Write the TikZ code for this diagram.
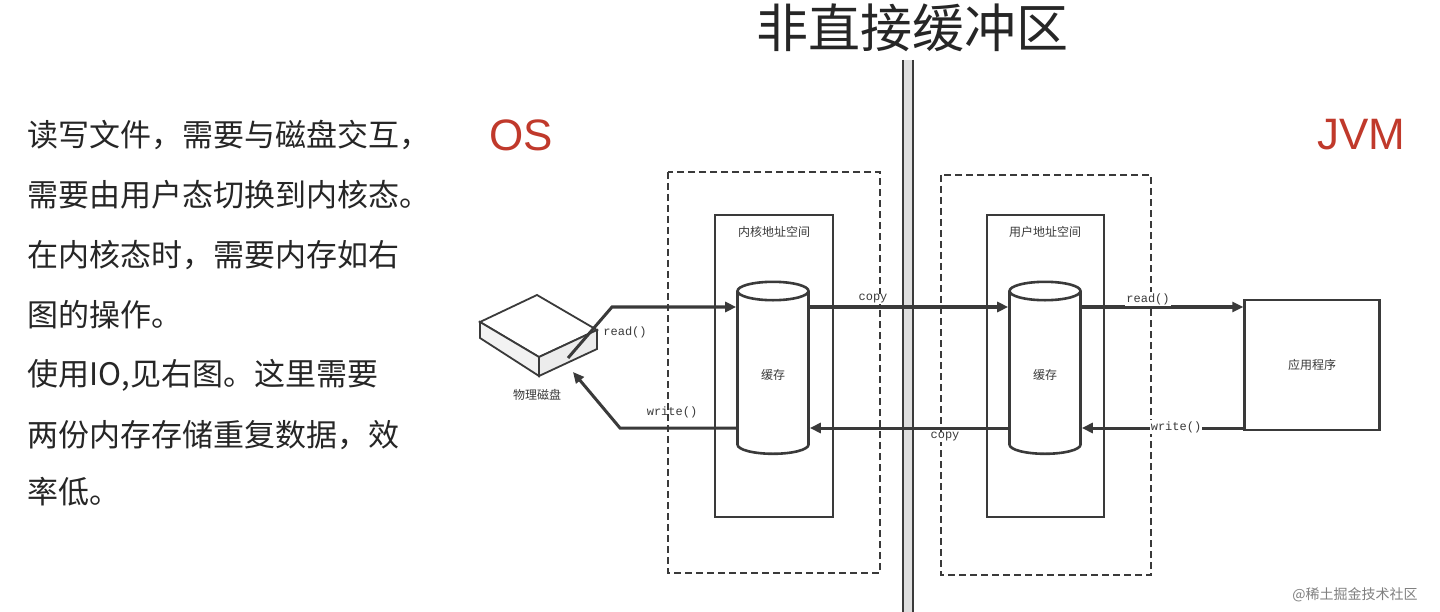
\documentclass[tikz,border=0pt]{standalone}
\usepackage{fontspec}
\setmainfont{Noto Sans CJK SC}
\newfontfamily\cjk{Noto Sans CJK SC}
\newfontfamily\mymono{Liberation Mono}
\usetikzlibrary{shapes.geometric,arrows.meta}
\definecolor{osred}{HTML}{C0392B}
\definecolor{ln}{HTML}{3A3A3A}
\begin{document}
\begin{tikzpicture}[x=1pt,y=-1pt,
  dbox/.style={draw=ln,line width=1.6pt,dash pattern=on 7pt off 4pt},
  sbox/.style={draw=ln,line width=1.3pt},
  cyl/.style={cylinder,shape border rotate=90,draw=ln,line width=2.6pt,minimum width=71pt,minimum height=172pt,aspect=0.6,font=\cjk\fontsize{12}{12}\selectfont,text=ln},
  arr/.style={draw=ln,line width=3pt,-{Triangle[length=11pt,width=10pt]}},
  lbl/.style={font=\mymono\fontsize{12}{12}\selectfont,text=ln,fill=white,inner sep=1pt},
  small/.style={font=\cjk\fontsize{12}{12}\selectfont,text=ln},
  side/.style={font=\cjk\fontsize{31}{31}\selectfont,anchor=west,text=black!85}]
\useasboundingbox (0,0) rectangle (1440,612);
\fill[white] (0,0) rectangle (1440,612);
\node[font=\cjk\fontsize{52}{52}\selectfont,text=black!85] (title) at (912,28) {非直接缓冲区};
\fill[gray!25] (903,60) rectangle (913,612);
\draw[ln,line width=1.2pt] (903,60) -- (903,612) (913,60) -- (913,612);
\node[side] (t1) at (24,135) {读写文件，需要与磁盘交互，};
\node[side] (t2) at (24,195) {需要由用户态切换到内核态。};
\node[side] (t3) at (24,255) {在内核态时，需要内存如右};
\node[side] (t4) at (24,315) {图的操作。};
\node[side] (t5) at (24,375) {使用IO,见右图。这里需要};
\node[side] (t6) at (24,435) {两份内存存储重复数据，效};
\node[side] (t7) at (24,492) {率低。};
\node[font=\fontspec{Liberation Sans}\fontsize{44}{44}\selectfont,text=osred] (os) at (521,135) {OS};
\node[font=\fontspec{Liberation Sans}\fontsize{44}{44}\selectfont,text=osred] (jvm) at (1361,135) {JVM};
\draw[dbox] (668,172) rectangle (880,573);
\draw[dbox] (941,175) rectangle (1151,575);
\draw[sbox] (715,215) rectangle (833,517);
\draw[sbox] (987,215) rectangle (1104,517);
\node[small] (kl) at (774,232) {内核地址空间};
\node[small] (ul) at (1045,232) {用户地址空间};
\node[cyl] (c1) at (773,375) {缓存};
\node[cyl] (c2) at (1045,375) {缓存};
% disk
\draw[ln,line width=1.8pt,fill=white] (480,322) -- (537,295) -- (597,330) -- (539,357) -- cycle;
\draw[ln,line width=1.8pt,fill=gray!10] (480,322) -- (480,338) -- (539,376) -- (539,357) -- cycle;
\draw[ln,line width=1.8pt,fill=gray!15] (539,357) -- (539,376) -- (597,349) -- (597,330) -- cycle;
\node[small] (dl) at (537,395) {物理磁盘};
\node[draw=ln,line width=2.4pt,minimum width=135pt,minimum height=130pt,small] (app) at (1312,365) {应用程序};
\coordinate (r1) at (612,307);
\coordinate (w1) at (620,428);
\draw[arr] (568,358) -- (r1) -- (c1.west |- r1) ;
\node[lbl,fill=none] (rl) at (625,332) {read()};
\draw[arr] (c1.west |- w1) -- (w1) -- (573,372);
\node[lbl,fill=none] (wl) at (672,412) {write()};
\draw[arr] (c1.east |- r1) -- (c2.west |- r1);
\node[lbl] (cp1) at (873,299) {copy};
\draw[arr] (c2.west |- w1) -- (c1.east |- w1);
\node[lbl] (cp2) at (945,437) {copy};
\draw[arr] (c2.east |- r1) -- (app.west |- r1);
\node[lbl] (rl2) at (1148,299) {read()};
\draw[arr] (app.west |- w1) -- (c2.east |- w1);
\node[lbl] (wl2) at (1176,427) {write()};
\node[font=\cjk\fontsize{14}{14}\selectfont,text=gray] (wm) at (1355,595) {@稀土掘金技术社区};
\end{tikzpicture}
\end{document}
